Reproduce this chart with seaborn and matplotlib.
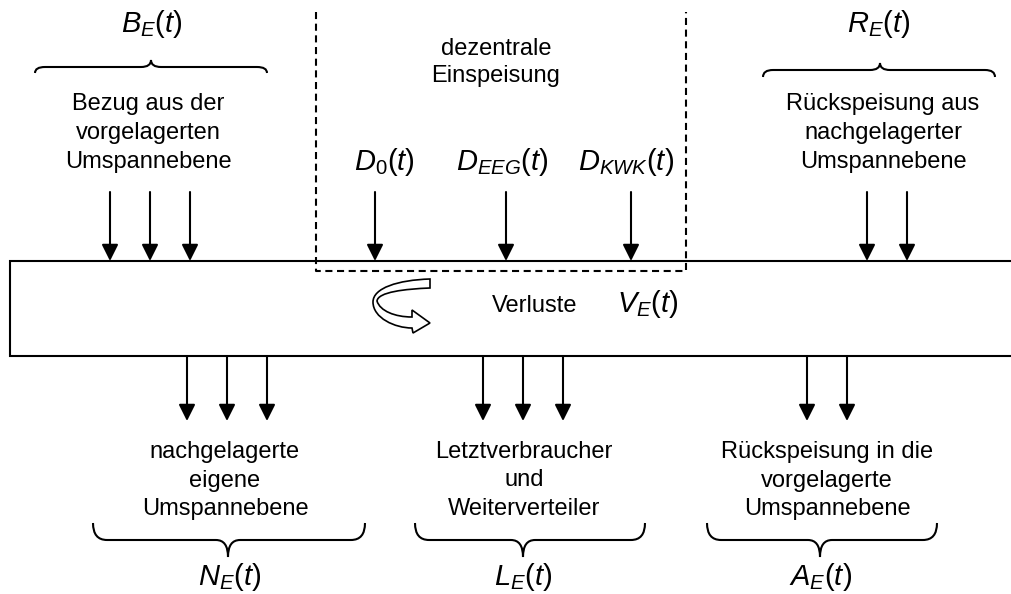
import numpy as np
import pandas as pd
import matplotlib
matplotlib.use('Agg')
import matplotlib.pyplot as plt
import seaborn as sns
from matplotlib.path import Path
from matplotlib.patches import PathPatch

# Pfeilgruppen (x-Position der Pfeile, Pixelkoordinaten des Bildes)
bezug_x = [110, 150, 190]
dezentral_x = [375, 506, 631]
rueck_in_x = [867, 907]
nach_x = [187, 227, 267]
letzt_x = [483, 523, 563]
rueck_out_x = [807, 847]

# Beschriftungen
top_formulas = [r'$B_{E}(t)$', r'$R_{E}(t)$']
top_formula_x = [152, 879]
d_formulas = [r'$D_{0}(t)$', r'$D_{EEG}(t)$', r'$D_{KWK}(t)$']
d_formula_x = [384, 502, 626]
top_texts = [['Bezug aus der', 'vorgelagerten', 'Umspannebene'],
             ['Rückspeisung aus', 'nachgelagerter', 'Umspannebene']]
top_text_x = [148, 883]
bottom_texts = [['nachgelagerte', 'eigene', 'Umspannebene'],
                ['Letztverbraucher', 'und', 'Weiterverteiler'],
                ['Rückspeisung in die', 'vorgelagerte', 'Umspannebene']]
bottom_text_x = [225, 524, 827]
bottom_formulas = [r'$N_{E}(t)$', r'$L_{E}(t)$', r'$A_{E}(t)$']
bottom_formula_x = [230, 523, 821]

sns.set_theme(style='white')
plt.rcParams['font.family'] = ['Liberation Sans', 'DejaVu Sans']
plt.rcParams['mathtext.fontset'] = 'custom'
plt.rcParams['mathtext.it'] = 'Liberation Sans:italic'
plt.rcParams['mathtext.rm'] = 'Liberation Sans'
plt.rcParams['text.color'] = 'black'

fig = plt.figure(figsize=(10.12, 5.94), dpi=100)
ax = fig.add_axes([0, 0, 1, 1])
ax.set_xlim(0, 1012)
ax.set_ylim(594, 0)
ax.axis('off')

LW = 1.5
FS_TXT = 17
FS_MATH = 21


def arrow(x, y0, y1):
    ax.annotate('', xy=(x, y1), xytext=(x, y0),
                arrowprops=dict(arrowstyle='-|>,head_length=1.0,head_width=0.5',
                                mutation_scale=10, lw=LW, color='black',
                                shrinkA=0, shrinkB=0))


def brace(x0, x1, xc, y_end, y_flat, y_tip, r=14, rt=12):
    verts = [(x0, y_end), (x0, y_flat), (x0 + r, y_flat),
             (xc - rt, y_flat), (xc, y_flat), (xc, y_tip),
             (xc, y_flat), (xc + rt, y_flat),
             (x1 - r, y_flat), (x1, y_flat), (x1, y_end)]
    codes = [Path.MOVETO, Path.CURVE3, Path.CURVE3,
             Path.LINETO, Path.CURVE3, Path.CURVE3,
             Path.CURVE3, Path.CURVE3,
             Path.LINETO, Path.CURVE3, Path.CURVE3]
    ax.add_patch(PathPatch(Path(verts, codes), fill=False, lw=LW, color='black'))


# Netzebene (rechts offen)
ax.plot([1015, 10, 10, 1015], [261, 261, 356, 356], color='black', lw=LW,
        solid_joinstyle='miter')

# dezentrale Einspeisung (gestrichelt)
ax.plot([316, 316, 686, 686], [12, 271, 271, 12], color='black', lw=LW,
        linestyle=(0, (3.4, 2.2)))

for xs in (bezug_x, dezentral_x, rueck_in_x):
    for x in xs:
        arrow(x, 192, 261)
for xs in (nach_x, letzt_x, rueck_out_x):
    for x in xs:
        arrow(x, 356, 421)

# Klammern
brace(35, 267, 151, 73, 67, 60, r=10, rt=10)
brace(763, 995, 880, 77, 70, 63, r=10, rt=10)
brace(93, 365, 228, 523, 540, 557)
brace(415, 645, 523, 523, 540, 557)
brace(707, 937, 820, 523, 540, 557)

# Formeln
for s, x in zip(top_formulas, top_formula_x):
    ax.text(x, 32, s, ha='center', va='baseline', fontsize=FS_MATH)
for s, x in zip(d_formulas, d_formula_x):
    ax.text(x, 170, s, ha='center', va='baseline', fontsize=FS_MATH)
for s, x in zip(bottom_formulas, bottom_formula_x):
    ax.text(x, 585, s, ha='center', va='baseline', fontsize=FS_MATH)
ax.text(648, 312, r'$V_{E}(t)$', ha='center', va='baseline', fontsize=FS_MATH)

# Texte
for lines, x in zip(top_texts, top_text_x):
    for i, s in enumerate(lines):
        ax.text(x, 110 + 29 * i, s, ha='center', va='baseline', fontsize=FS_TXT)
for lines, x in zip(bottom_texts, bottom_text_x):
    for i, s in enumerate(lines):
        ax.text(x, 458 + 28.5 * i, s, ha='center', va='baseline', fontsize=FS_TXT)
ax.text(496, 55, 'dezentrale', ha='center', va='baseline', fontsize=FS_TXT)
ax.text(496, 82, 'Einspeisung', ha='center', va='baseline', fontsize=FS_TXT)
ax.text(535, 312, 'Verluste', ha='center', va='baseline', fontsize=FS_TXT)

# gebogener Pfeil (Verluste)
cv = [(430, 279),
      (398, 280), (373, 288), (373, 302),
      (373, 318), (395, 328), (412, 328),
      (413, 333), (430, 323), (412, 310), (412, 317),
      (395, 317), (380, 311), (377, 301),
      (378, 292), (405, 289), (430, 288),
      (430, 279)]
cc = [Path.MOVETO,
      Path.CURVE4, Path.CURVE4, Path.CURVE4,
      Path.CURVE4, Path.CURVE4, Path.CURVE4,
      Path.LINETO, Path.LINETO, Path.LINETO, Path.LINETO,
      Path.CURVE4, Path.CURVE4, Path.CURVE4,
      Path.CURVE4, Path.CURVE4, Path.CURVE4,
      Path.CLOSEPOLY]
ax.add_patch(PathPatch(Path(cv, cc), facecolor='white', edgecolor='black', lw=1.2))

fig.savefig('out.png', dpi=100)
